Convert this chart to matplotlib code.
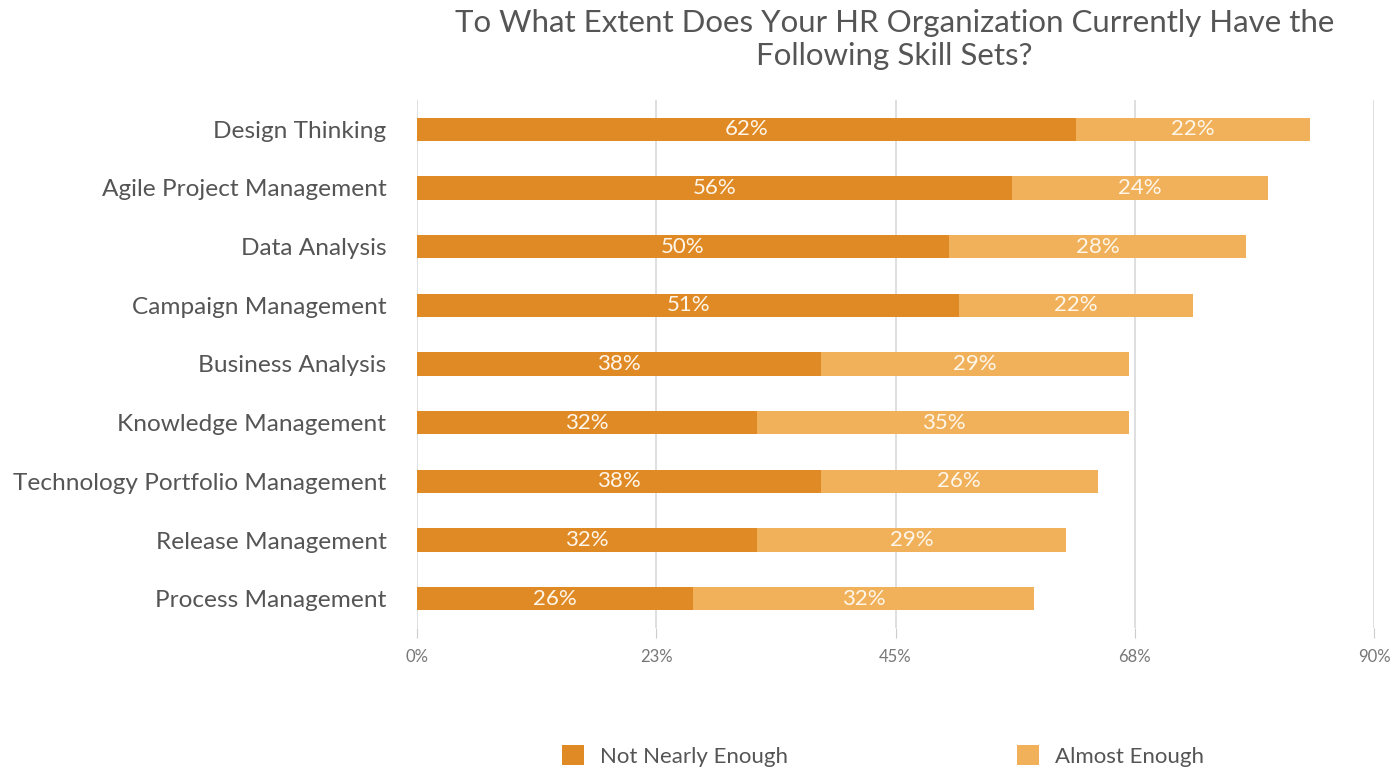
import matplotlib.pyplot as plt
import numpy as np

# ==============================
# DATA
# ==============================
categories = ["Design Thinking", "Agile Project Management", "Data Analysis",
              "Campaign Management", "Business Analysis", "Knowledge Management",
              "Technology Portfolio Management", "Release Management",
              "Process Management"]
not_nearly = [62, 56, 50, 51, 38, 32, 38, 32, 26]
almost = [22, 24, 28, 22, 29, 35, 26, 29, 32]
tick_vals = [0, 22.5, 45, 67.5, 90]
tick_labels = ["0%", "23%", "45%", "68%", "90%"]

c_dark = "#E08A26"
c_light = "#F0B15A"
txt = "#555555"

plt.rcParams["font.family"] = ["Lato", "DejaVu Sans"]

# ==============================
# SETUP
# ==============================
fig = plt.figure(figsize=(13.91, 7.70), dpi=100)
ax = fig.add_axes([0.2998, 0.1844, 0.688, 0.6858])

y = np.arange(len(categories))
b1 = ax.barh(y, not_nearly, height=0.4, color=c_dark, label="Not Nearly Enough", zorder=3)
b2 = ax.barh(y, almost, left=not_nearly, height=0.4, color=c_light, label="Almost Enough", zorder=3)

for bars, vals in ((b1, not_nearly), (b2, almost)):
    for r, v in zip(bars, vals):
        ax.text(r.get_x() + r.get_width() / 2, r.get_y() + r.get_height() / 2,
                f"{v}%", ha="center", va="center", color="#FFF6EA",
                fontsize=16, zorder=4)

ax.set_xlim(0, 90)
ax.set_ylim(len(categories) - 0.5, -0.5)
ax.set_xticks(tick_vals)
ax.set_xticklabels(tick_labels, fontsize=12, color="#777777")
ax.set_yticks(y)
ax.set_yticklabels(categories, fontsize=17.6, color=txt)
ax.tick_params(axis="y", length=0, pad=22)
ax.tick_params(axis="x", length=7, color="#cccccc", pad=8)
ax.grid(axis="x", color="#d9d9d9", linewidth=1.2, zorder=0)
for s in ax.spines.values():
    s.set_visible(False)

fig.text(0.643, 0.988, "To What Extent Does Your HR Organization Currently Have the\nFollowing Skill Sets?",
         ha="center", va="top", fontsize=22.5, color=txt, linespacing=1.2)

fig.legend(handles=[b1, b2], loc="center", bbox_to_anchor=(0.635, 0.018),
           ncol=2, frameon=False, fontsize=16, handlelength=1.0, handleheight=1.0,
           columnspacing=10.3, handletextpad=0.72, labelcolor=txt)

fig.savefig("out.png", dpi=100)
